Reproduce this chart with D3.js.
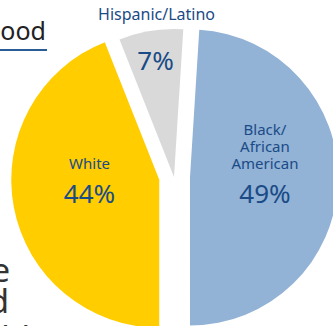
<html>
  <head>
    <script src="https://cdn.jsdelivr.net/npm/d3@7/dist/d3.min.js" charset="UTF-8"></script>

    <style type="text/css">

    body {
      margin: 0;
      background: white;
    }

    text {
      font-family: "Noto Sans", "Open Sans", sans-serif;
    }

    text.name {
      text-anchor: middle;
      fill: #1a4b86;
      font-size: 15px;
    }

    text.name-out {
      font-size: 16px;
    }

    text.pct {
      text-anchor: middle;
      fill: #1a4b86;
      font-size: 26px;
    }

    text.heading {
      text-anchor: end;
      fill: #222;
      font-size: 25px;
    }

    text.body {
      fill: #333;
      font-size: 33px;
    }

    line.underline {
      stroke: #2a5c98;
      stroke-width: 2;
    }

    </style>

  </head>
  <body>

    <script type="text/javascript">

      var width = 333;
      var height = 326;

      // data, clockwise starting at 6 o'clock
      var groups = ["White", "Hispanic/Latino", "Black/African American"];
      var shares = [44, 7, 49];
      var nameLines = [["White"], ["Hispanic/Latino"], ["Black/", "African", "American"]];

      var colors = ["#ffcd00", "#d9d9d9", "#92b2d6"];
      var explode = [15, 0, 16];

      var cx = 174;
      var cy = 177;
      var r = 148;

      var svg = d3.select("body").append("svg")
        .attr("width", width)
        .attr("height", height);

      /* Text of the page around the chart (cropped on the left) */
      svg.append("text")
        .attr("class", "heading")
        .attr("x", 46)
        .attr("y", 40)
        .text("Neighborhood");

      svg.append("line")
        .attr("class", "underline")
        .attr("x1", -150)
        .attr("y1", 50)
        .attr("x2", 47)
        .attr("y2", 50);

      svg.append("text")
        .attr("class", "body")
        .attr("text-anchor", "end")
        .attr("x", 10)
        .attr("y", 282)
        .text("the");

      svg.append("text")
        .attr("class", "body")
        .attr("text-anchor", "end")
        .attr("x", 9)
        .attr("y", 313)
        .text("and");

      svg.append("text")
        .attr("class", "body")
        .attr("text-anchor", "end")
        .attr("x", 42)
        .attr("y", 350)
        .text("health");

      var pie = d3.pie()
        .sort(null)
        .startAngle(Math.PI)
        .endAngle(3 * Math.PI);

      var arc = d3.arc()
        .innerRadius(0)
        .outerRadius(r);

      var slices = pie(shares);

      function offset(d, i, dist) {
        var a = (d.startAngle + d.endAngle) / 2;
        return [Math.sin(a) * dist, -Math.cos(a) * dist];
      }

      var g = svg.append("g")
        .attr("transform", "translate(" + cx + "," + cy + ")");

      /* Draw slices */
      g.selectAll("path.slice")
        .data(slices)
        .enter()
        .append("path")
        .attr("class", "slice")
        .attr("fill", function(d, i) { return colors[i]; })
        .attr("transform", function(d, i) {
          var o = offset(d, i, explode[i]);
          return "translate(" + o[0] + "," + o[1] + ")";
        })
        .attr("d", arc);

      /* Labels: radius from the slice tip and baseline shift of the percent */
      var labelRadius = [71, 118, 75];
      var pctShift = [10, 10, 23];

      slices.forEach(function(d, i) {
        var o = offset(d, i, explode[i] + labelRadius[i]);
        var x = o[0];
        var y = o[1] + pctShift[i];

        g.append("text")
          .attr("class", "pct")
          .attr("x", x)
          .attr("y", y)
          .text(shares[i] + "%");

        var lines = nameLines[i];
        if (i === 1) {
          // small slice: name sits above the pie
          g.append("text")
            .attr("class", "name name-out")
            .attr("x", x + 1)
            .attr("y", y - 50)
            .text(lines[0]);
        } else {
          lines.forEach(function(t, k) {
            g.append("text")
              .attr("class", "name")
              .attr("x", x)
              .attr("y", y - 34 - (lines.length - 1 - k) * 17)
              .text(t);
          });
        }
      });

    </script>
  </body>
</html>
